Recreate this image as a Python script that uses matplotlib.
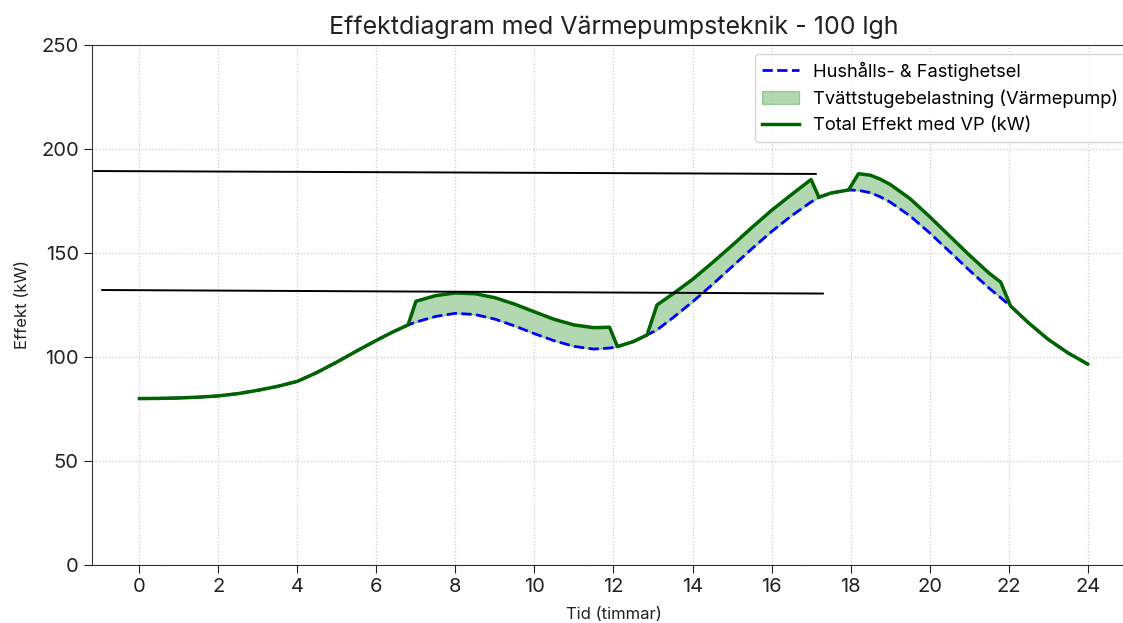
import matplotlib
matplotlib.use("Agg")
import matplotlib.pyplot as plt
import numpy as np

plt.rcParams['font.family'] = ['Inter', 'DejaVu Sans']

# Tid (timmar) och avlästa effekter (kW)
tid = [0, 0.5, 1, 1.5, 2, 2.5, 3, 3.5, 4, 4.5,
       5, 5.5, 6, 6.4, 6.8, 7.0, 7.5, 8, 8.5, 9,
       9.5, 10, 10.5, 11, 11.5, 11.9, 12.1, 12.5, 12.85, 13.1,
       13.5, 14, 14.5, 15, 15.5, 16, 16.5, 17.0, 17.2, 17.5,
       17.95, 18.2, 18.5, 18.75, 19, 19.5, 20, 20.5, 21, 21.5,
       21.8, 22.05, 22.5, 23, 23.5, 24]

hushall = [80.0, 80.1, 80.3, 80.7, 81.3, 82.4, 84.0, 85.9, 88.3, 92.6,
           97.6, 102.9, 108.0, 111.9, 115.4, 116.8, 119.5, 121.0, 120.4, 118.2,
           114.9, 111.2, 107.8, 105.1, 103.8, 104.3, 105.0, 107.4, 110.6, 113.0,
           118.8, 126.5, 134.8, 143.4, 152.0, 160.3, 167.8, 174.5, 176.8, 178.8,
           180.3, 180.1, 179.0, 177.0, 174.5, 167.9, 159.7, 150.8, 141.8, 133.2,
           128.5, 124.5, 116.5, 108.5, 102.0, 96.6]

tvatt = [0, 0, 0, 0, 0, 0, 0, 0, 0, 0,
         0, 0, 0, 0, 0, 10, 10, 9.8, 10, 10.3,
         10.5, 10.5, 10.3, 10.3, 10.3, 10, 0, 0, 0, 12,
         11.5, 10.8, 10.5, 10.2, 10.2, 10.2, 10.2, 10.8, 0, 0,
         0, 8, 8.4, 8.5, 8.5, 8.3, 7.8, 7.5, 7.3, 7.2,
         7.5, 0, 0, 0, 0, 0]

# handritade referenslinjer
linje1_x = [-1.14, 17.12]
linje1_y = [189.4, 188.0]
linje2_x = [-0.94, 17.3]
linje2_y = [132.2, 130.5]

total = np.array(hushall) + np.array(tvatt)

fig = plt.figure(figsize=(11.23, 6.23), dpi=100)
ax = fig.add_axes([0.0819, 0.0931, 0.9288, 0.8347])

ax.plot(tid, hushall, '--', color='blue', lw=2, label='Hushålls- & Fastighetsel')
ax.fill_between(tid, hushall, total, color='green', alpha=0.3,
                label='Tvättstugebelastning (Värmepump)')
ax.plot(tid, total, color='darkgreen', lw=2.5, label='Total Effekt med VP (kW)')

ax.plot(linje1_x, linje1_y, color='black', lw=1.4)
ax.plot(linje2_x, linje2_y, color='black', lw=1.4)

ax.set_xlim(-1.2, 25.2)
ax.set_ylim(0, 250)
ax.set_xticks(range(0, 25, 2))
ax.set_yticks(range(0, 251, 50))
ax.tick_params(labelsize=14.5, length=6, colors='#222222')
ax.grid(True, linestyle=':', color='#cccccc', lw=0.9)

ax.set_title('Effektdiagram med Värmepumpsteknik - 100 lgh', fontsize=18, pad=8, color='#222222')
ax.set_xlabel('Tid (timmar)', fontsize=12, labelpad=8, color='#222222')
ax.set_ylabel('Effekt (kW)', fontsize=12, labelpad=8, color='#222222')

for s in ax.spines.values():
    s.set_color('#333333')

ax.legend(loc='upper right', fontsize=13.2)

plt.savefig('out.png', dpi=100)
